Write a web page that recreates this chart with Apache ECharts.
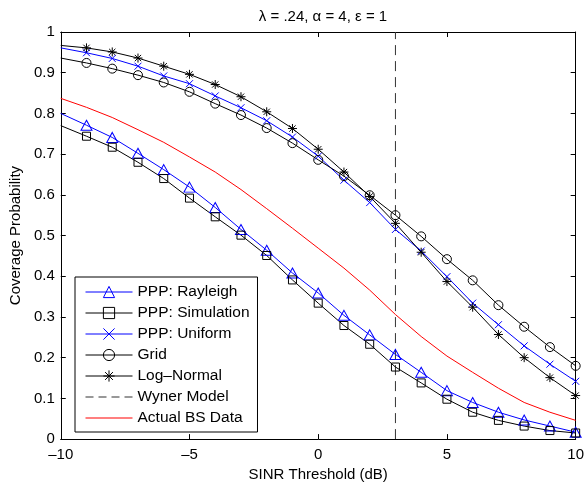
<!DOCTYPE html>
<html>
<head>
<meta charset="utf-8">
<script src="https://cdn.jsdelivr.net/npm/echarts@6/dist/echarts.min.js"></script>
<style>
html,body{margin:0;padding:0;background:#fff;}
#chart{width:587px;height:487px;}
</style>
</head>
<body>
<div id="chart"></div>
<script>
const xValues = [-10,-9,-8,-7,-6,-5,-4,-3,-2,-1,0,1,2,3,4,5,6,7,8,9,10];
const rayleigh   = [0.800,0.771,0.741,0.702,0.662,0.619,0.569,0.515,0.464,0.408,0.359,0.304,0.256,0.208,0.164,0.119,0.090,0.066,0.047,0.032,0.017];
const simulation = [0.770,0.744,0.717,0.680,0.640,0.592,0.546,0.501,0.451,0.391,0.334,0.279,0.233,0.177,0.138,0.098,0.066,0.046,0.032,0.021,0.015];
const uniform    = [0.961,0.949,0.935,0.916,0.892,0.873,0.843,0.814,0.782,0.742,0.695,0.636,0.581,0.515,0.462,0.399,0.334,0.281,0.229,0.184,0.142];
const gridModel  = [0.936,0.924,0.910,0.894,0.876,0.853,0.824,0.796,0.764,0.727,0.686,0.646,0.599,0.550,0.498,0.442,0.390,0.329,0.276,0.226,0.180];
const logNormal  = [0.967,0.961,0.951,0.936,0.916,0.896,0.871,0.841,0.804,0.763,0.712,0.656,0.596,0.530,0.459,0.387,0.324,0.257,0.200,0.151,0.107];
const actualBS   = [0.837,0.815,0.790,0.760,0.729,0.693,0.656,0.613,0.566,0.518,0.469,0.420,0.366,0.306,0.252,0.204,0.164,0.125,0.090,0.066,0.046];
const wynerX = [3, 3];
const wynerY = [0, 1];
const seriesNames = ['PPP: Rayleigh','PPP: Simulation','PPP: Uniform','Grid','Log\u2013Normal','Wyner Model','Actual BS Data'];
const titleText = '\u03bb = .24, \u03b1 = 4, \u03b5 = 1';
const xName = 'SINR Threshold (dB)';
const yName = 'Coverage Probability';

const FONT = 'Liberation Sans, Arial, Helvetica, sans-serif';
const FS = 15;
const BLUE = '#0000ff';
const BLACK = '#000000';
const CLEAR = 'rgba(255,255,255,0)';
const X_PATH = 'path://M0,0L10,10M10,0L0,10';
const STAR_PATH = 'path://M5,0L5,10M0,5L10,5M1.5,1.5L8.5,8.5M8.5,1.5L1.5,8.5';

function pts(vals) {
  return xValues.map((x, i) => {
    const d = { value: [x, vals[i]] };
    if (i === 0) d.symbol = 'none';
    return d;
  });
}
function markerSeries(name, vals, color, symbol, size) {
  return {
    name: name, type: 'line', data: pts(vals), symbol: symbol, symbolSize: size,
    showSymbol: true, showAllSymbol: true, clip: false,
    lineStyle: { color: color, width: 1 },
    itemStyle: { color: CLEAR, borderColor: color, borderWidth: 1 },
    emphasis: { disabled: true }, animation: false, z: 3
  };
}

const chart = echarts.init(document.getElementById('chart'), null, { renderer: 'canvas' });
const axisCommon = {
  type: 'value', splitLine: { show: false },
  axisLine: { onZero: false, lineStyle: { color: BLACK, width: 1 } },
  axisTick: { inside: true, length: 5, lineStyle: { color: BLACK } }
};
chart.setOption({
  animation: false,
  textStyle: { fontFamily: FONT },
  title: {
    text: titleText, left: 318, top: 4, textAlign: 'center',
    textStyle: { fontFamily: FONT, fontSize: FS, fontWeight: 'normal', color: BLACK }
  },
  grid: { left: 58, right: 9, top: 32, bottom: 45, containLabel: false },
  xAxis: [
    Object.assign({}, axisCommon, {
      min: -10, max: 10, interval: 5, position: 'bottom',
      name: xName, nameLocation: 'middle', nameGap: 25,
      nameTextStyle: { fontFamily: FONT, fontSize: FS, color: BLACK },
      axisLabel: { margin: 8, fontFamily: FONT, fontSize: FS, color: BLACK,
        formatter: v => String(v).replace('-', '\u2013') }
    }),
    Object.assign({}, axisCommon, {
      min: -10, max: 10, interval: 5, position: 'top', axisLabel: { show: false }
    })
  ],
  yAxis: [
    Object.assign({}, axisCommon, {
      min: 0, max: 1, interval: 0.1, position: 'left',
      name: yName, nameLocation: 'middle', nameGap: 35,
      nameTextStyle: { fontFamily: FONT, fontSize: FS, color: BLACK },
      axisLabel: { margin: 6, fontFamily: FONT, fontSize: FS, color: BLACK,
        formatter: v => String(Math.round(v * 10) / 10) }
    }),
    Object.assign({}, axisCommon, {
      min: 0, max: 1, interval: 0.1, position: 'right', axisLabel: { show: false }
    })
  ],
  legend: {
    orient: 'vertical', left: 75, top: 277,
    backgroundColor: '#fff', borderColor: BLACK, borderWidth: 1,
    padding: [7, 8, 6, 10], itemWidth: 47, itemHeight: 14, itemGap: 5,
    itemStyle: { borderWidth: 1 },
    lineStyle: { width: 1 },
    textStyle: { fontFamily: FONT, fontSize: 15.5, color: BLACK },
    selectedMode: false,
    data: [
      { name: seriesNames[0] }, { name: seriesNames[1] }, { name: seriesNames[2] },
      { name: seriesNames[3] }, { name: seriesNames[4] },
      { name: seriesNames[5], icon: 'path://M0,0H8V1H0ZM13,0H21V1H13ZM26,0H34V1H26ZM39,0H47V1H39Z', itemStyle: { color: '#333', borderWidth: 0 } },
      { name: seriesNames[6], icon: 'path://M0,0H47V1H0Z', itemStyle: { color: '#ff0000', borderWidth: 0 } }
    ]
  },
  series: [
    {
      name: seriesNames[6], type: 'line', data: xValues.map((x, i) => [x, actualBS[i]]),
      symbol: 'none', smooth: false, lineStyle: { color: '#ff0000', width: 1 },
      itemStyle: { color: '#ff0000' }, emphasis: { disabled: true }, z: 2
    },
    {
      name: seriesNames[5], type: 'line', data: wynerX.map((x, i) => [x, wynerY[i]]),
      symbol: 'none', lineStyle: { color: '#333', width: 1, type: [10, 6] },
      itemStyle: { color: '#333' }, emphasis: { disabled: true }, z: 2
    },
    markerSeries(seriesNames[0], rayleigh, BLUE, 'triangle', [11, 10]),
    markerSeries(seriesNames[1], simulation, BLACK, 'rect', [8, 8]),
    markerSeries(seriesNames[2], uniform, BLUE, X_PATH, [7, 7]),
    markerSeries(seriesNames[3], gridModel, BLACK, 'circle', [9, 9]),
    markerSeries(seriesNames[4], logNormal, BLACK, STAR_PATH, [9, 9])
  ]
});
</script>
</body>
</html>
